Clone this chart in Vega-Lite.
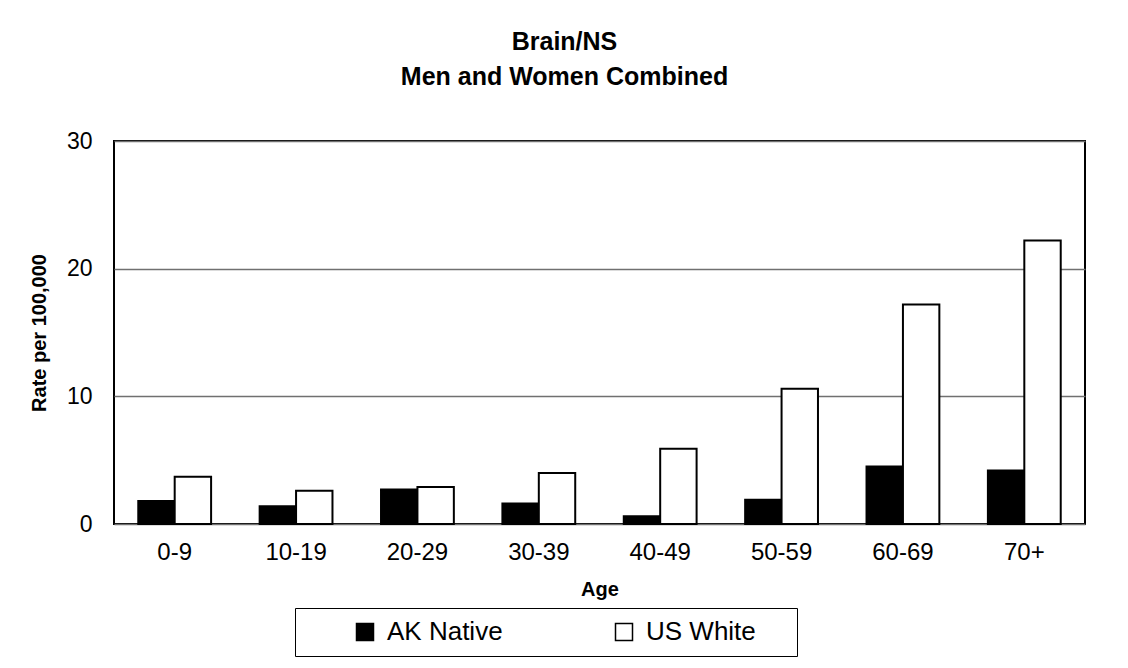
{
  "$schema": "https://vega.github.io/schema/vega-lite/v6.json",
  "width": 971,
  "height": 383,
  "autosize": {"type": "none"},
  "padding": {"left": 114, "top": 141, "right": 43, "bottom": 144},
  "background": "white",
  "title": {
    "text": ["Brain/NS", "Men and Women Combined"],
    "font": "Liberation Sans",
    "fontSize": 25,
    "fontWeight": "bold",
    "lineHeight": 35,
    "anchor": "middle",
    "dx": -35,
    "offset": 40,
    "color": "black"
  },
  "data": {
    "values": [
      {"age": "0-9", "group": "AK Native", "rate": 1.8},
      {"age": "0-9", "group": "US White", "rate": 3.7},
      {"age": "10-19", "group": "AK Native", "rate": 1.4},
      {"age": "10-19", "group": "US White", "rate": 2.6},
      {"age": "20-29", "group": "AK Native", "rate": 2.7},
      {"age": "20-29", "group": "US White", "rate": 2.9},
      {"age": "30-39", "group": "AK Native", "rate": 1.6},
      {"age": "30-39", "group": "US White", "rate": 4.0},
      {"age": "40-49", "group": "AK Native", "rate": 0.6},
      {"age": "40-49", "group": "US White", "rate": 5.9},
      {"age": "50-59", "group": "AK Native", "rate": 1.9},
      {"age": "50-59", "group": "US White", "rate": 10.6},
      {"age": "60-69", "group": "AK Native", "rate": 4.5},
      {"age": "60-69", "group": "US White", "rate": 17.2},
      {"age": "70+", "group": "AK Native", "rate": 4.2},
      {"age": "70+", "group": "US White", "rate": 22.2}
    ]
  },
  "mark": {"type": "bar", "stroke": "black", "strokeWidth": 2},
  "encoding": {
    "x": {
      "field": "age",
      "type": "nominal",
      "sort": null,
      "scale": {"paddingInner": 0.4, "paddingOuter": 0.2},
      "axis": {
        "title": "Age",
        "labelAngle": 0,
        "labelFontSize": 24,
        "labelColor": "black",
        "labelPadding": 16,
        "ticks": false,
        "domain": false,
        "titleFontSize": 20,
        "titleFontWeight": "bold",
        "titleColor": "black",
        "titlePadding": 15
      }
    },
    "xOffset": {
      "field": "group",
      "type": "nominal",
      "sort": ["AK Native", "US White"],
      "scale": {"paddingInner": 0, "paddingOuter": 0}
    },
    "y": {
      "field": "rate",
      "type": "quantitative",
      "scale": {"domain": [0, 30], "nice": false},
      "axis": {
        "values": [0, 10, 20, 30],
        "title": "Rate per 100,000",
        "titleFontSize": 20,
        "titleFontWeight": "bold",
        "titleColor": "black",
        "titlePadding": 17,
        "labelFontSize": 23,
        "labelColor": "black",
        "labelPadding": 22,
        "ticks": false,
        "domain": false,
        "grid": true,
        "gridColor": "#707070",
        "gridWidth": 1.5
      }
    },
    "fill": {
      "field": "group",
      "type": "nominal",
      "scale": {"domain": ["AK Native", "US White"], "range": ["black", "white"]},
      "legend": {
        "title": "\u00a0",
        "titleOrient": "right",
        "titleFontSize": 26,
        "titlePadding": 30,
        "orient": "none",
        "legendX": 181,
        "legendY": 467,
        "direction": "horizontal",
        "fillColor": "white",
        "strokeColor": "black",
        "padding": 11,
        "symbolType": "square",
        "symbolSize": 289,
        "symbolStrokeColor": "black",
        "symbolStrokeWidth": 1.5,
        "symbolOffset": 46,
        "labelFontSize": 26,
        "labelColor": "black",
        "labelOffset": 9,
        "columnPadding": 62
      }
    }
  },
  "config": {
    "font": "Liberation Sans",
    "view": {"stroke": "black", "strokeWidth": 2}
  }
}
